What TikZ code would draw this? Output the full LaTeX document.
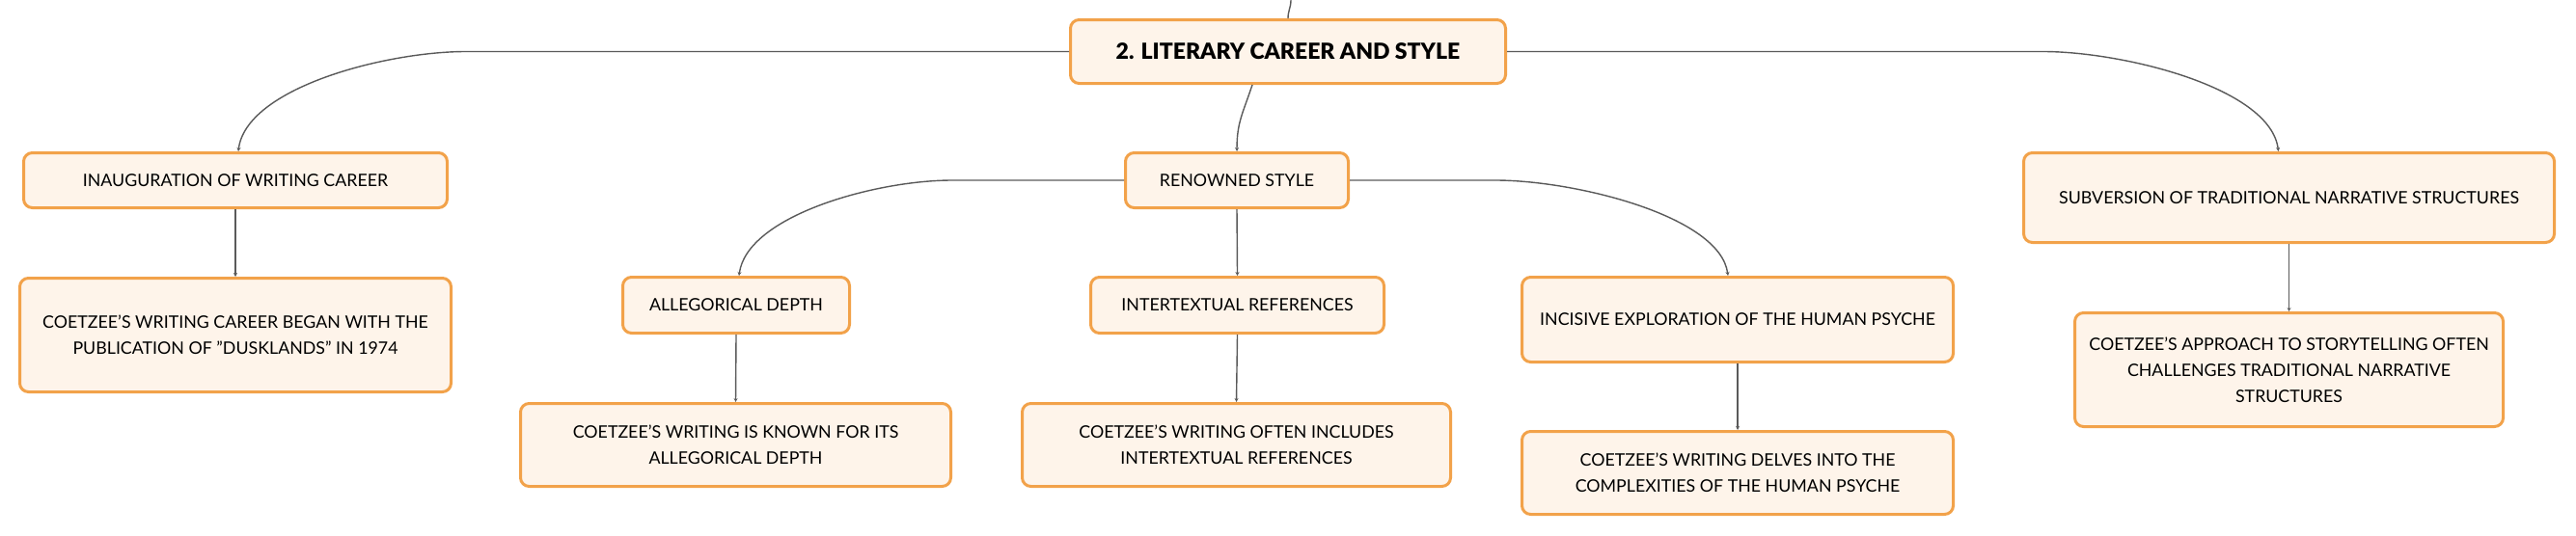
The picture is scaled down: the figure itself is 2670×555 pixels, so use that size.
\documentclass[tikz,border=0pt]{standalone}
\usepackage{fontspec}
\setmainfont{Lato}
\newfontfamily\titlefont{Lato Black}
\usetikzlibrary{calc,arrows.meta}
\definecolor{boxborder}{HTML}{F2A24A}
\definecolor{boxfill}{HTML}{FEF4EA}
\definecolor{linegray}{HTML}{5A5A5A}
\tikzset{
  box/.style={draw=boxborder, fill=boxfill, line width=3pt, rounded corners=9pt,
    inner sep=0pt, align=center, text=black,
    font=\fontsize{17.8}{27}\selectfont},
  titlebox/.style={box, font=\fontsize{23}{30}\selectfont\titlefont},
  conn/.style={draw=linegray, line width=1.4pt, -{Stealth[length=4pt,width=4pt]}},
  plainconn/.style={draw=linegray, line width=1.4pt}
}
\begin{document}
\begin{tikzpicture}[x=1pt,y=-1pt]
\useasboundingbox (0,0) rectangle (2670,555);
% nodes
\node[titlebox, minimum width=451, minimum height=66] (main) at (1335,53.5) {2. LITERARY CAREER AND STYLE};
\node[box, minimum width=231, minimum height=57] (renowned) at (1282,187) {RENOWNED STYLE};
\node[box, minimum width=439, minimum height=57] (inaug) at (244,187) {INAUGURATION OF WRITING CAREER};
\node[box, minimum width=447, minimum height=118] (inaugC) at (244,347.5) {COETZEE’S WRITING CAREER BEGAN WITH THE\\PUBLICATION OF "DUSKLANDS" IN 1974};
\node[box, minimum width=235, minimum height=58] (alleg) at (763,316.5) {ALLEGORICAL DEPTH};
\node[box, minimum width=446, minimum height=86] (allegC) at (762.5,461.5) {COETZEE’S WRITING IS KNOWN FOR ITS\\ALLEGORICAL DEPTH};
\node[box, minimum width=304, minimum height=58] (inter) at (1282.5,316.5) {INTERTEXTUAL REFERENCES};
\node[box, minimum width=444, minimum height=86] (interC) at (1281.5,461.5) {COETZEE’S WRITING OFTEN INCLUDES\\INTERTEXTUAL REFERENCES};
\node[box, minimum width=447, minimum height=88] (incis) at (1801,331.5) {INCISIVE EXPLORATION OF THE HUMAN PSYCHE};
\node[box, minimum width=447, minimum height=86] (incisC) at (1801,490.5) {COETZEE’S WRITING DELVES INTO THE\\COMPLEXITIES OF THE HUMAN PSYCHE};
\node[box, minimum width=550, minimum height=93] (subv) at (2372.5,205) {SUBVERSION OF TRADITIONAL NARRATIVE STRUCTURES};
\node[box, minimum width=444, minimum height=118] (subvC) at (2372.5,383.5) {COETZEE’S APPROACH TO STORYTELLING OFTEN\\CHALLENGES TRADITIONAL NARRATIVE\\STRUCTURES};
\coordinate (topend) at (1338,0);
% connectors
\draw[plainconn] (main.north) .. controls +(0,-8) and +(0,8) .. (topend);
\draw[conn] ($(main.south)+(-37,0)$) .. controls +(-10,30) and +(0,-30) .. (renowned.north);
\draw[conn] (main.west) -- ($(main.west -| inaug.north)+(239,0)$)
  .. controls +(-83,0) and ($(inaug.north)+(11,-66)$) .. ($(inaug.north)+(3,0)$);
\draw[conn] (main.east) -- ($(main.east -| subv.north)+(-255,0)$)
  .. controls +(83,0) and ($(subv.north)+(-19,-66)$) .. ($(subv.north)+(-11,0)$);
\draw[conn] (renowned.west) -- ($(renowned.west -| alleg.north)+(224,0)$)
  .. controls +(-80,0) and ($(alleg.north)+(11,-62)$) .. ($(alleg.north)+(3,0)$);
\draw[conn] (renowned.east) -- ($(renowned.east -| incis.north)+(-251,0)$)
  .. controls +(82,0) and ($(incis.north)+(-18,-62)$) .. ($(incis.north)+(-10,0)$);
\draw[conn] (renowned.south) -- (inter.north);
\draw[conn] (inaug.south) -- (inaugC.north);
\draw[conn] (alleg.south) -- (allegC.north);
\draw[conn] (inter.south) -- (interC.north);
\draw[conn] (incis.south) -- (incisC.north);
\draw[conn] (subv.south) -- (subvC.north);
\end{tikzpicture}
\end{document}
